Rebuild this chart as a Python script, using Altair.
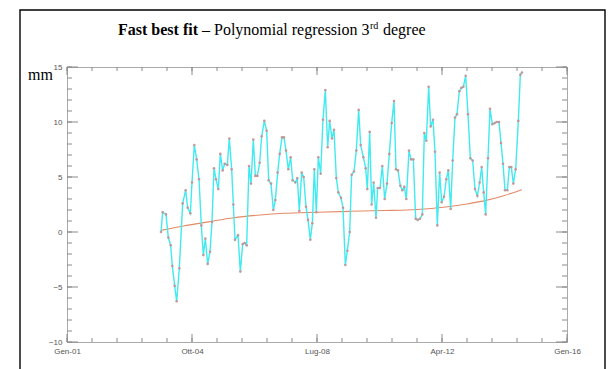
import altair as alt
import pandas as pd

# ---- data ----
years = [2003.82, 2003.87, 2003.97, 2004.04, 2004.11, 2004.16, 2004.23, 2004.29, 2004.37, 2004.47,
         2004.56, 2004.62, 2004.70, 2004.75, 2004.82, 2004.89, 2004.96, 2005.03, 2005.09, 2005.15,
         2005.22, 2005.29, 2005.35, 2005.41, 2005.47, 2005.54, 2005.60, 2005.67, 2005.73, 2005.81,
         2005.87, 2005.94, 2005.99, 2006.04, 2006.13, 2006.20, 2006.27, 2006.33, 2006.39, 2006.46,
         2006.52, 2006.59, 2006.65, 2006.71, 2006.78, 2006.84, 2006.92, 2006.99, 2007.05, 2007.12,
         2007.19, 2007.25, 2007.32, 2007.38, 2007.45, 2007.51, 2007.57, 2007.64, 2007.71, 2007.77,
         2007.85, 2007.91, 2007.97, 2008.04, 2008.10, 2008.17, 2008.23, 2008.30, 2008.36, 2008.42,
         2008.48, 2008.54, 2008.61, 2008.68, 2008.75, 2008.82, 2008.88, 2008.95, 2009.01, 2009.08,
         2009.14, 2009.22, 2009.28, 2009.35, 2009.41, 2009.48, 2009.54, 2009.61, 2009.68, 2009.75,
         2009.81, 2009.89, 2009.96, 2010.01, 2010.08, 2010.14, 2010.20, 2010.27, 2010.32, 2010.39,
         2010.46, 2010.53, 2010.60, 2010.67, 2010.74, 2010.81, 2010.87, 2010.93, 2011.00, 2011.06,
         2011.12, 2011.18, 2011.26, 2011.32, 2011.39, 2011.46, 2011.52, 2011.59, 2011.66, 2011.72,
         2011.78, 2011.85, 2011.91, 2011.98, 2012.04, 2012.11, 2012.18, 2012.24, 2012.31, 2012.38,
         2012.44, 2012.51, 2012.57, 2012.64, 2012.70, 2012.77, 2012.83, 2012.89, 2012.96, 2013.03,
         2013.10, 2013.17, 2013.24, 2013.31, 2013.38, 2013.44, 2013.50, 2013.56, 2013.63, 2013.69,
         2013.76, 2013.83, 2013.89, 2013.96, 2014.02, 2014.08, 2014.14, 2014.21, 2014.27, 2014.33,
         2014.39, 2014.46, 2014.54, 2014.60, 2014.65]
values_mm = [0.0, 1.8, 1.6, -0.5, -1.2, -3.1, -4.9, -6.3, -3.3, 2.6,
             3.8, 2.2, 1.7, 4.5, 7.9, 6.6, 4.8, 0.6, -2.1, -0.6,
             -2.9, -1.8, 0.9, 5.8, 4.8, 3.9, 7.1, 5.6, 6.2, 6.1,
             8.5, 5.7, 2.5, -0.7, -0.3, -3.6, -1.1, -1.0, -1.2, 6.0,
             4.4, 8.4, 5.1, 5.1, 6.3, 8.7, 10.1, 9.2, 4.7, 4.4,
             2.0, 2.9, 5.4, 7.1, 8.6, 8.6, 7.4, 5.7, 6.8, 4.7,
             4.5, 4.9, 1.9, 5.4, 5.0, 2.3, 1.1, -0.7, 0.8, 5.7,
             1.8, 6.8, 5.3, 10.2, 12.9, 7.7, 10.1, 8.5, 9.3, 4.9,
             3.6, 3.1, 2.2, -3.0, -1.7, 0.0, 5.2, 5.5, 7.4, 11.1,
             7.9, 6.8, 5.8, 3.9, 9.1, 2.5, 4.5, 1.3, 4.0, 4.0,
             6.0, 3.0, 4.4, 7.1, 9.9, 11.9, 5.7, 5.6, 4.2, 3.8,
             4.1, 3.0, 7.4, 6.6, 6.6, 1.2, 1.1, 1.2, 1.6, 9.0,
             8.3, 13.2, 9.6, 10.2, 7.3, 0.6, 5.4, 2.7, 3.2, 4.8,
             5.6, 2.1, 6.5, 10.4, 10.7, 12.8, 13.1, 13.2, 14.2, 10.7,
             6.7, 6.5, 3.9, 3.3, 4.5, 5.9, 3.6, 1.6, 6.7, 11.2,
             9.8, 9.9, 10.0, 10.0, 8.1, 6.2, 3.8, 3.8, 5.9, 5.9,
             4.4, 5.7, 10.1, 14.3, 14.5]

# 3rd-degree polynomial trend as drawn in the picture
trend_years = [2003.82, 2004.5, 2005.2, 2006.0, 2006.8, 2007.5, 2008.5, 2009.5, 2010.5,
               2011.5, 2012.3, 2013.0, 2013.6, 2014.1, 2014.65]
trend_values = [0.15, 0.55, 0.9, 1.3, 1.55, 1.7, 1.8, 1.88, 1.95,
                2.05, 2.25, 2.55, 2.9, 3.3, 3.85]

tick_years = [2001, 2004.75, 2008.5, 2012.25, 2016]
tick_labels = ["Gen-01", "Ott-04", "Lug-08", "Apr-12", "Gen-16"]
y_ticks = [-10, -5, 0, 5, 10, 15]

df = pd.DataFrame({"t": years, "v": values_mm})
dtrend = pd.DataFrame({"t": trend_years, "v": trend_values})

W, H = 500, 275
label_expr = " : ".join(
    f"datum.value == {y} ? '{l}'" for y, l in zip(tick_years, tick_labels)
) + " : ''"

xaxis = alt.Axis(values=tick_years, labelExpr=label_expr, ticks=False, domain=False, grid=False,
                 title=None, labelFont="Liberation Sans", labelFontSize=8, labelColor="#555555",
                 labelPadding=5, labelFlush=False)
yaxis = alt.Axis(values=y_ticks, ticks=False, domain=False, grid=False, title=None,
                 labelFont="Liberation Sans", labelFontSize=8, labelColor="#555555",
                 labelPadding=5, labelFlush=False)
X = alt.X("t:Q", scale=alt.Scale(domain=[2001, 2016], nice=False, zero=False), axis=xaxis)
Y = alt.Y("v:Q", scale=alt.Scale(domain=[-10, 15], nice=False, zero=False), axis=yaxis)

# inward tick marks
ymaj = pd.DataFrame({"v": y_ticks})
ymin = pd.DataFrame({"v": list(range(-10, 16))})
xmaj = pd.DataFrame({"t": tick_years})
xmin = pd.DataFrame({"t": [2001 + 0.75 * k for k in range(21)]})
tick_col = "#8a8a8a"

def yrule(d, x0, x1):
    return alt.Chart(d).mark_rule(color=tick_col, strokeWidth=1).encode(
        y=Y, x=alt.value(x0), x2=alt.value(x1))

def xrule(d, y0, y1):
    return alt.Chart(d).mark_rule(color=tick_col, strokeWidth=1).encode(
        x=X, y=alt.value(y0), y2=alt.value(y1))

ticks = [
    yrule(ymaj, 0, 11), yrule(ymaj, W, W - 11), yrule(ymin, 0, 5), yrule(ymin, W, W - 5),
    xrule(xmaj, H, H - 8), xrule(xmaj, 0, 8), xrule(xmin, H, H - 4), xrule(xmin, 0, 4),
]

base = alt.Chart(df)
line = base.mark_line(color="#40eaf0", strokeWidth=1.4).encode(x=X, y=Y)
pts = base.mark_point(shape="circle", filled=True, size=7, color="#c39090", opacity=0.9).encode(x=X, y=Y)
trend = alt.Chart(dtrend).mark_line(color="#e38a66", strokeWidth=1.1, interpolate="monotone").encode(x=X, y=Y)

one = alt.Data(values=[{"a": 1}])
def txt(s, x, y, size, weight="normal"):
    return alt.Chart(one).mark_text(align="left", baseline="alphabetic", font="Liberation Serif",
                                    fontSize=size, fontWeight=weight, color="black").encode(
        x=alt.value(x), y=alt.value(y), text=alt.value(s))

texts = [
    txt("Fast best fit", 51, -32, 16, "bold"),
    txt("\u2013 Polynomial regression 3", 135, -32, 16),
    txt("rd", 303, -38, 10),
    txt("degree", 316, -32, 16),
    txt("mm", -39, 13, 16),
]

frame = alt.Chart(one).mark_rect(filled=False, stroke="black", strokeWidth=1.4).encode(
    x=alt.value(-47), x2=alt.value(538), y=alt.value(-57), y2=alt.value(330))

chart = alt.layer(frame, *ticks, trend, line, pts, *texts).properties(
    width=W, height=H,
    autosize=alt.AutoSizeParams(type="none"),
    padding={"left": 59, "top": 59, "right": 41, "bottom": 27},
    background="white",
).configure_view(stroke="#aaaaaa", strokeWidth=1)

chart.save("out.html", embed_options={"renderer": "svg", "actions": False})
